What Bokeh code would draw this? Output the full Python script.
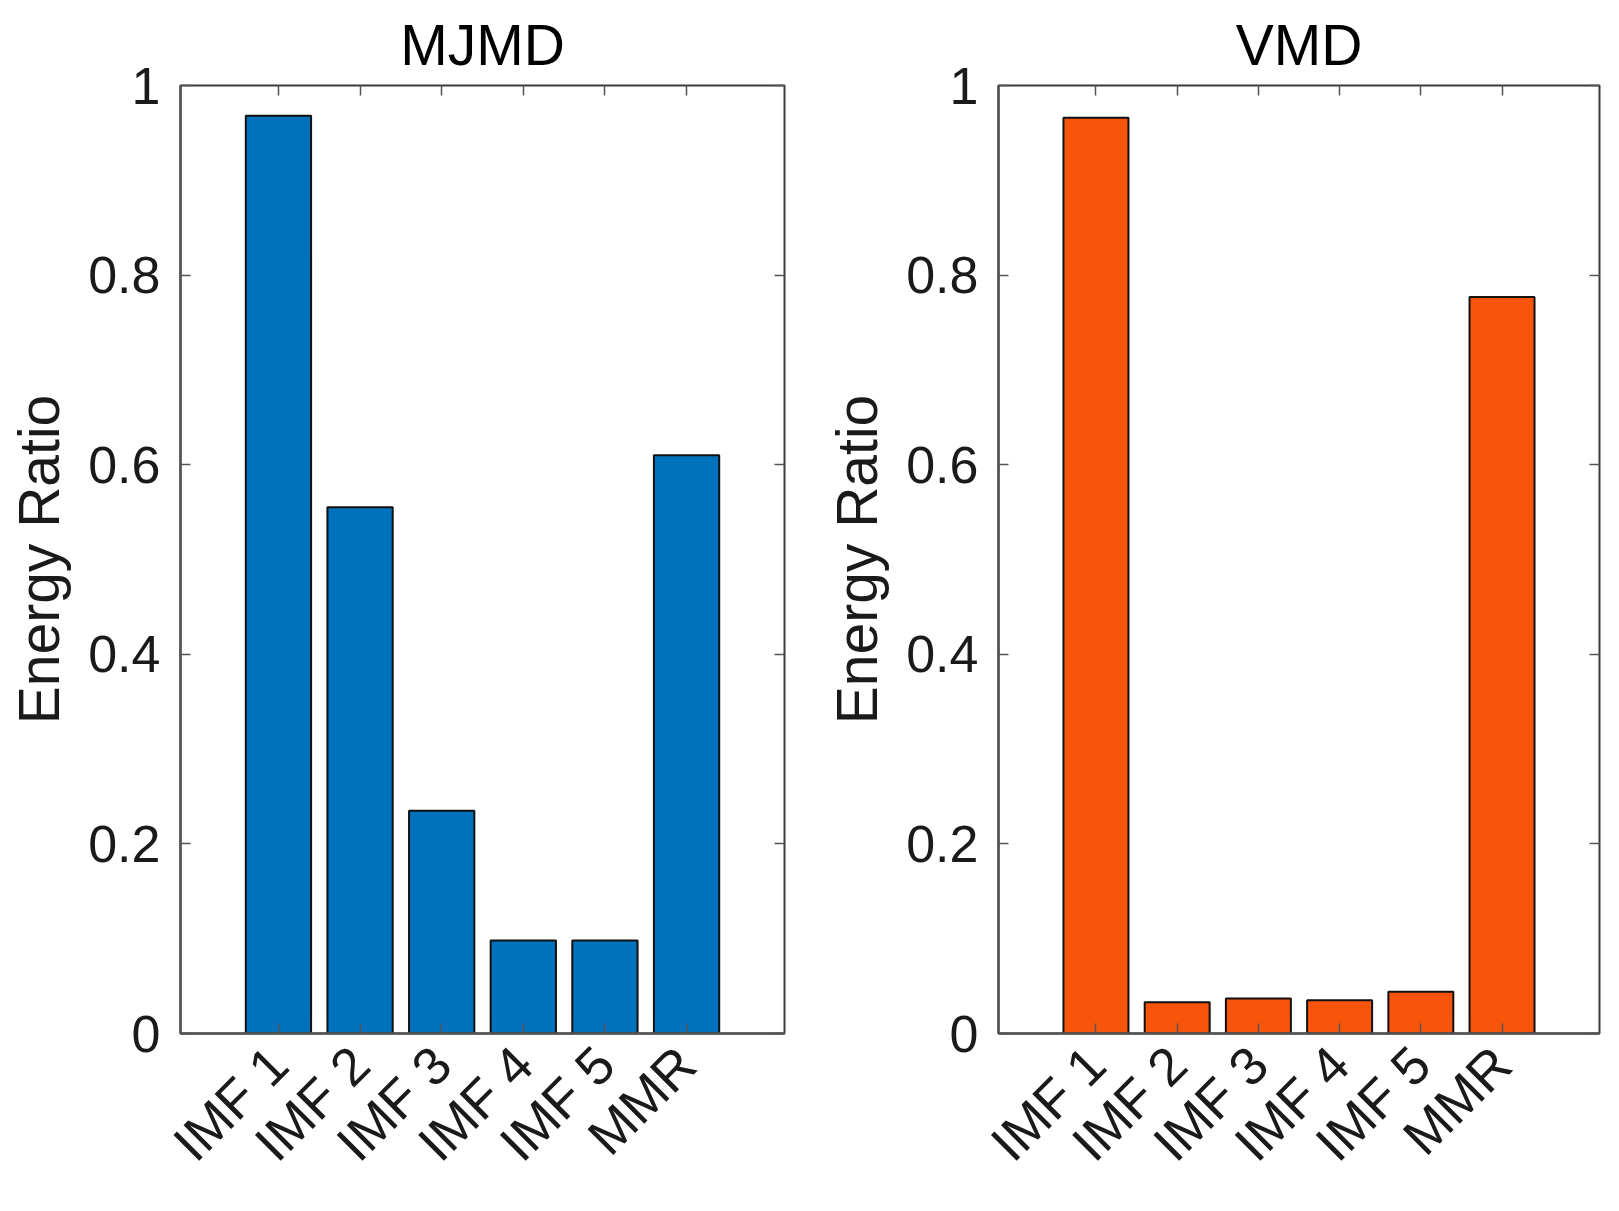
import math
from bokeh.plotting import figure
from bokeh.layouts import row
from bokeh.models import Range1d, FixedTicker, LinearAxis
from bokeh.embed import file_html
from bokeh.resources import INLINE

# data
categories = ["IMF 1", "IMF 2", "IMF 3", "IMF 4", "IMF 5", "MMR"]
mjmd_ratio = [0.968, 0.555, 0.235, 0.098, 0.098, 0.610]
vmd_ratio = [0.966, 0.033, 0.037, 0.035, 0.044, 0.777]
y_ticks = [0, 0.2, 0.4, 0.6, 0.8, 1]
y_tick_labels = ["0", "0.2", "0.4", "0.6", "0.8", "1"]

FONT = "Liberation Sans"
AX_COL = "#555555"
TXT_COL = "#1a1a1a"


def make_panel(title, values, color, width, b_left, b_right):
    xs = list(range(1, len(categories) + 1))
    p = figure(width=width, height=1195, output_backend="svg", toolbar_location=None,
               x_range=Range1d(-0.2, 7.2), y_range=Range1d(0, 1),
               min_border_left=b_left, min_border_right=b_right,
               min_border_top=85, min_border_bottom=160)
    p.title.text = title
    p.title.align = "center"
    p.title.text_font = FONT
    p.title.text_font_size = "57px"
    p.title.text_font_style = "normal"
    p.title.text_color = "#000000"
    p.title.standoff = 18

    p.vbar(x=xs, top=values, width=0.8, bottom=0, fill_color=color,
           line_color="#111111", line_width=2)

    p.grid.visible = False
    p.outline_line_color = "#3a3a3a"
    p.outline_line_width = 2
    p.background_fill_color = "white"
    p.border_fill_color = "white"

    xa = p.xaxis[0]
    xa.ticker = FixedTicker(ticks=xs)
    xa.major_label_overrides = {x: c for x, c in zip(xs, categories)}
    xa.major_label_orientation = math.pi / 4
    xa.major_label_text_font = FONT
    xa.major_label_text_font_size = "53px"
    xa.major_label_text_color = TXT_COL
    xa.major_label_standoff = 22

    ya = p.yaxis[0]
    ya.ticker = FixedTicker(ticks=y_ticks)
    ya.major_label_overrides = {t: s for t, s in zip(y_ticks, y_tick_labels)}
    ya.major_label_text_font = FONT
    ya.major_label_text_font_size = "52px"
    ya.major_label_text_color = TXT_COL
    ya.major_label_standoff = 20
    ya.axis_label = "Energy Ratio"
    ya.axis_label_text_font = FONT
    ya.axis_label_text_font_size = "57px"
    ya.axis_label_text_font_style = "normal"
    ya.axis_label_text_color = TXT_COL
    ya.axis_label_standoff = 14

    for ax in (xa, ya):
        ax.axis_line_color = AX_COL
        ax.axis_line_width = 2.5
        ax.major_tick_line_color = AX_COL
        ax.major_tick_line_width = 1.5
        ax.major_tick_in = 10
        ax.major_tick_out = 0
        ax.minor_tick_line_color = None

    # box ticks on top and right
    top = LinearAxis(ticker=FixedTicker(ticks=xs), axis_line_color=None,
                     major_tick_in=10, major_tick_out=0, major_tick_line_color=AX_COL,
                     major_tick_line_width=1.5, minor_tick_line_color=None,
                     major_label_text_font_size="0px", major_label_standoff=0)
    right = LinearAxis(ticker=FixedTicker(ticks=y_ticks), axis_line_color=None,
                       major_tick_in=10, major_tick_out=0, major_tick_line_color=AX_COL,
                       major_tick_line_width=1.5, minor_tick_line_color=None,
                       major_label_text_font_size="0px", major_label_standoff=0)
    p.add_layout(top, "above")
    p.add_layout(right, "right")
    return p


p1 = make_panel("MJMD", mjmd_ratio, "#0072BD", 800, 180, 16)
p2 = make_panel("VMD", vmd_ratio, "#F9540B", 803, 198, 4)

layout = row(p1, p2)
open("out.html", "w").write(file_html(layout, INLINE))
